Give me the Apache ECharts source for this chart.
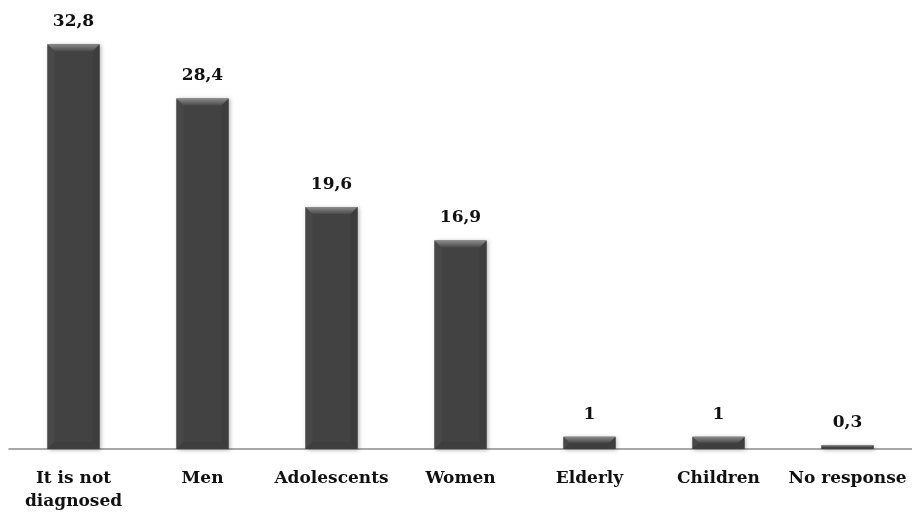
<!DOCTYPE html>
<html>
<head>
<meta charset="utf-8">
<script src="https://cdn.jsdelivr.net/npm/echarts@6/dist/echarts.min.js"></script>
<style>
  html, body { margin: 0; padding: 0; background: #fff; }
  #chart { width: 912px; height: 513px; }
</style>
</head>
<body>
<div id="chart"></div>
<script>
const categories = ['It is not\ndiagnosed', 'Men', 'Adolescents', 'Women', 'Elderly', 'Children', 'No response'];
const values = [32.8, 28.4, 19.6, 16.9, 1, 1, 0.3];

const fontFamily = '"DejaVu Serif", serif';
const BAR_W = 52;

// bevelled column: flat face, lighter top edge, faintly shaded sides
function renderBevelBar(params, api) {
  const idx = api.value(0);
  const val = api.value(1);
  const topPt = api.coord([idx, val]);
  const basePt = api.coord([idx, 0]);
  const left = topPt[0] - BAR_W / 2;
  const right = left + BAR_W;
  const top = topPt[1];
  const base = basePt[1];
  const h = base - top;
  const b = Math.min(7, h / 2);
  const label = String(val).replace('.', ',');
  return {
    type: 'group',
    children: [
      {
        type: 'rect',
        shape: { x: left, y: top, width: BAR_W, height: h },
        style: {
          fill: '#424242',
          shadowBlur: 4,
          shadowColor: 'rgba(0,0,0,0.3)',
          shadowOffsetX: 1,
          shadowOffsetY: 1
        }
      },
      {
        type: 'polygon',
        shape: { points: [[left, top], [left + b, top + b], [left + b, base - b], [left, base]] },
        style: { fill: '#484848' }
      },
      {
        type: 'polygon',
        shape: { points: [[right, top], [right - b, top + b], [right - b, base - b], [right, base]] },
        style: { fill: '#3d3d3d' }
      },
      {
        type: 'polygon',
        shape: { points: [[left, base], [left + b, base - b], [right - b, base - b], [right, base]] },
        style: { fill: '#3e3e3e' }
      },
      {
        type: 'polygon',
        shape: { points: [[left, top], [right, top], [right - b, top + b], [left + b, top + b]] },
        style: {
          fill: {
            type: 'linear', x: 0, y: 0, x2: 0, y2: 1,
            colorStops: [{ offset: 0, color: '#8c8c8c' }, { offset: 1, color: '#4a4a4a' }]
          }
        }
      },
      {
        type: 'text',
        x: topPt[0],
        y: top - 14,
        style: {
          text: label,
          align: 'center',
          verticalAlign: 'bottom',
          fill: '#111',
          font: 'bold 17px ' + fontFamily
        }
      }
    ]
  };
}

const chart = echarts.init(document.getElementById('chart'));
chart.setOption({
  animation: false,
  grid: { left: 9, right: -2, top: 17, bottom: 62 },
  xAxis: {
    type: 'category',
    data: categories,
    axisTick: { show: false },
    axisLine: { lineStyle: { color: '#8c8c8c', width: 1.5 } },
    axisLabel: {
      interval: 0,
      margin: 18,
      color: '#111',
      fontFamily: fontFamily,
      fontWeight: 'bold',
      fontSize: 17,
      lineHeight: 23
    }
  },
  yAxis: {
    type: 'value',
    min: 0,
    max: 35,
    show: false,
    splitLine: { show: false }
  },
  series: [{
    type: 'custom',
    renderItem: renderBevelBar,
    encode: { x: 0, y: 1 },
    data: values.map((v, i) => [i, v]),
    z: 1
  }]
});
</script>
</body>
</html>
